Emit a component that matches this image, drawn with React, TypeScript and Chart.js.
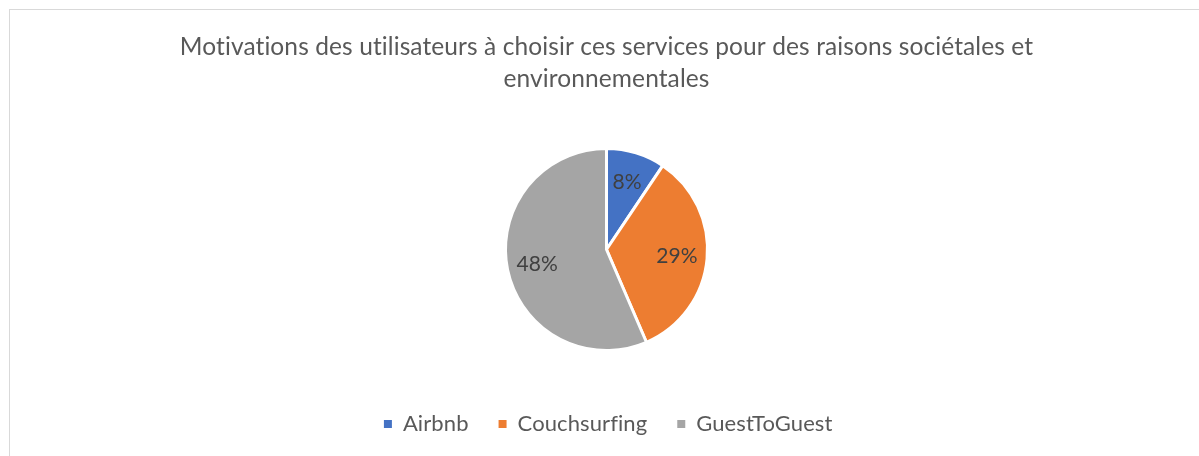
import React, { useEffect, useRef } from "react";
import { Chart, registerables } from "chart.js";

Chart.register(...registerables);

const categories = ["Airbnb", "Couchsurfing", "GuestToGuest"];
const values = [8, 29, 48];
const colors = ["#4472C4", "#ED7D31", "#A5A5A5"];
const titleLines = [
  "Motivations des utilisateurs à choisir ces services pour des raisons sociétales et",
  "environnementales",
];

const FONT = "Lato, 'Noto Sans', sans-serif";

const noLigaturesPlugin = {
  id: "noLigatures",
  beforeDraw(chart: any) {
    const ctx = chart.ctx as any;
    if ("letterSpacing" in ctx) ctx.letterSpacing = "0.1px";
  },
};

const labelPlugin = {
  id: "pieLabels",
  afterDatasetsDraw(chart: any) {
    const ctx = chart.ctx;
    const meta = chart.getDatasetMeta(0);
    ctx.save();
    ctx.font = `21px ${FONT}`;
    ctx.fillStyle = "#404040";
    ctx.textAlign = "center";
    ctx.textBaseline = "middle";
    meta.data.forEach((arc: any, i: number) => {
      const p = arc.getProps(["x", "y", "startAngle", "endAngle", "outerRadius"], true);
      const mid = (p.startAngle + p.endAngle) / 2;
      const r = p.outerRadius * 0.7;
      ctx.fillText(`${values[i]}%`, p.x + Math.cos(mid) * r, p.y + Math.sin(mid) * r);
    });
    ctx.restore();
  },
};

export default function App() {
  const ref = useRef<HTMLCanvasElement>(null);
  useEffect(() => {
    if (!ref.current) return;
    const defaultLabels = (Chart as any).overrides.pie.plugins.legend.labels.generateLabels;
    const chart = new Chart(ref.current, {
      type: "pie",
      data: {
        labels: categories,
        datasets: [
          {
            data: values,
            backgroundColor: colors,
            borderColor: "#FFFFFF",
            borderWidth: 3,
            hoverBorderWidth: 3,
            hoverOffset: 0,
            offset: 0,
          },
        ],
      },
      options: {
        animation: false,
        responsive: true,
        maintainAspectRatio: false,
        layout: { padding: { left: 14, right: 0, top: 0, bottom: 3 } },
        plugins: {
          tooltip: { enabled: false },
          title: {
            display: true,
            text: titleLines,
            color: "#595959",
            font: { family: FONT, size: 24.5, weight: "normal", lineHeight: "32px" },
            padding: { top: 23, bottom: 52 },
          },
          legend: {
            position: "bottom",
            title: { display: true, text: "", padding: 0, font: { size: 12, lineHeight: "31px" } },
            labels: {
              boxWidth: 8,
              boxHeight: 8,
              padding: 30,
              color: "#595959",
              font: { family: FONT, size: 22 },
              generateLabels: (c: any) =>
                defaultLabels(c).map((item: any) => ({ ...item, lineWidth: 0, strokeStyle: "rgba(0,0,0,0)" })),
            },
          },
        },
      },
      plugins: [noLigaturesPlugin, labelPlugin],
    });
    return () => chart.destroy();
  }, []);

  return (
    <div style={{ position: "relative", width: 1183, height: 440 }}>
      <div
        style={{
          position: "fixed",
          left: 9,
          top: 9,
          width: 1300,
          height: 600,
          borderLeft: "1px solid #D9D9D9",
          borderTop: "1px solid #D9D9D9",
        }}
      />
      <div style={{ position: "absolute", left: 0, top: 0, width: 1183, height: 440 }}>
        <canvas ref={ref} />
      </div>
    </div>
  );
}
